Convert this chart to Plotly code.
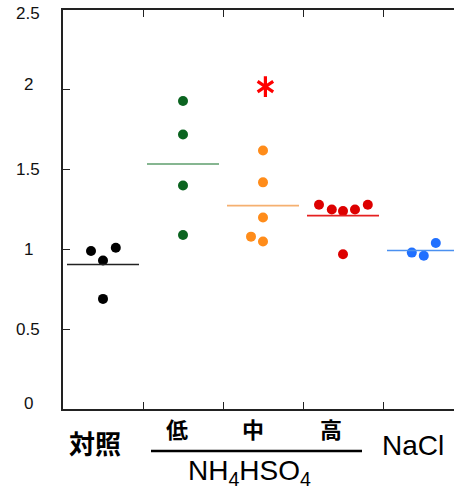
import plotly.graph_objects as go

# ---- data ----
categories = ["対照", "低", "中", "高", "NaCl"]
control_vals = [0.99, 0.93, 1.01, 0.69]
low_vals = [1.93, 1.72, 1.40, 1.09]
mid_vals = [1.62, 1.42, 1.20, 1.08, 1.05]
high_vals = [1.28, 1.25, 1.24, 1.25, 1.28, 0.97]
nacl_vals = [0.98, 0.96, 1.04]
star_value = 2.02
y_ticks = [0, 0.5, 1, 1.5, 2, 2.5]
y_tick_labels = ["0", "0.5", "1", "1.5", "2", "2.5"]

# ---- layout / style (horizontal jitter of dots within each group) ----
jitter = [
    [-0.15, 0.0, 0.16, 0.0],
    [0.0, 0.0, 0.0, 0.0],
    [0.0, 0.0, 0.0, -0.15, 0.0],
    [-0.3, -0.14, 0.0, 0.15, 0.31, 0.0],
    [-0.14, 0.01, 0.16],
]
dot_colors = ["#000000", "#0b6420", "#ff8c1a", "#dd0000", "#2070ff"]
line_colors = ["#222222", "#5e9e6c", "#f5b070", "#e52020", "#4a90f0"]
groups = [control_vals, low_vals, mid_vals, high_vals, nacl_vals]

fig = go.Figure()
for i, vals in enumerate(groups):
    xs = [i + j for j in jitter[i]]
    fig.add_trace(go.Scatter(x=xs, y=vals, mode="markers",
                             marker=dict(size=10, color=dot_colors[i]),
                             showlegend=False, cliponaxis=False))
    m = sum(vals) / len(vals)
    fig.add_trace(go.Scatter(x=[i - 0.45, i + 0.45], y=[m, m], mode="lines",
                             line=dict(color=line_colors[i], width=1.6),
                             showlegend=False))

# significance asterisk (six-armed) over the 中 group
for sym in ["y-up-open", "y-down-open"]:
    fig.add_trace(go.Scatter(x=[2.03], y=[star_value], mode="markers",
                             marker=dict(symbol=sym, size=13, color="#ff0000",
                                         line=dict(color="#ff0000", width=3.2)),
                             showlegend=False, cliponaxis=False))

annotations = []
for v, t in zip(y_ticks, y_tick_labels):
    ys = 0
    if v == 2.5:
        ys = -3
    if v == 0:
        ys = 6
    if v == 2:
        ys = 5
    annotations.append(dict(x=-0.0895, y=v, xref="paper", yref="y", text=t,
                            showarrow=False, xanchor="center", yanchor="middle",
                            yshift=ys,
                            font=dict(size=17, color="#111111",
                                      family="Liberation Sans, Arial")))

cjk = "Noto Sans CJK JP, Noto Sans CJK SC"
def py(pix):
    return (409 - pix) / 399.0

annotations.append(dict(x=-0.094, y=py(442.5), xref="x", yref="paper",
                        text="<b>" + categories[0] + "</b>", showarrow=False,
                        xanchor="center", yanchor="middle",
                        font=dict(size=26, color="#000000", family=cjk)))
for k, cx in zip([1, 2, 3], [0.919, 1.869, 2.856]):
    annotations.append(dict(x=cx, y=py(427.5), xref="x", yref="paper",
                            text="<b>" + categories[k] + "</b>", showarrow=False,
                            xanchor="center", yanchor="middle",
                            font=dict(size=22, color="#000000", family=cjk)))
annotations.append(dict(x=1.831, y=py(472), xref="x", yref="paper",
                        text="NH<sub>4</sub>HSO<sub>4</sub>", showarrow=False,
                        xanchor="center", yanchor="middle",
                        font=dict(size=28, color="#000000",
                                  family="Liberation Sans, Arial")))
annotations.append(dict(x=3.875, y=py(445), xref="x", yref="paper",
                        text=categories[4], showarrow=False,
                        xanchor="center", yanchor="middle",
                        font=dict(size=28, color="#000000",
                                  family="Liberation Sans, Arial")))

fig.add_shape(type="line", xref="x", yref="paper", x0=0.6, x1=3.2375,
              y0=py(451), y1=py(451), line=dict(color="#000000", width=2.5))

fig.update_layout(
    width=454, height=491,
    margin=dict(l=63, r=0, t=10, b=82),
    paper_bgcolor="white", plot_bgcolor="white",
    annotations=annotations,
    xaxis=dict(range=[-0.5, 4.3875], showgrid=False, zeroline=False,
               showline=True, linecolor="#222222", linewidth=1.5,
               mirror="ticks", ticks="inside", ticklen=7, tickwidth=1.2,
               tickcolor="#222222", tickvals=[0.5, 1.5, 2.5, 3.5],
               showticklabels=False),
    yaxis=dict(range=[0, 2.5], showgrid=False, zeroline=False,
               showline=True, linecolor="#222222", linewidth=1.5,
               ticks="inside", ticklen=7, tickwidth=1.2, tickcolor="#222222",
               tickvals=[0.5, 1, 1.5, 2], showticklabels=False),
)
fig.write_html("out.html", config={"displayModeBar": False},
               post_script="document.body.style.margin='0';"
                           "document.body.style.overflow='hidden';")
